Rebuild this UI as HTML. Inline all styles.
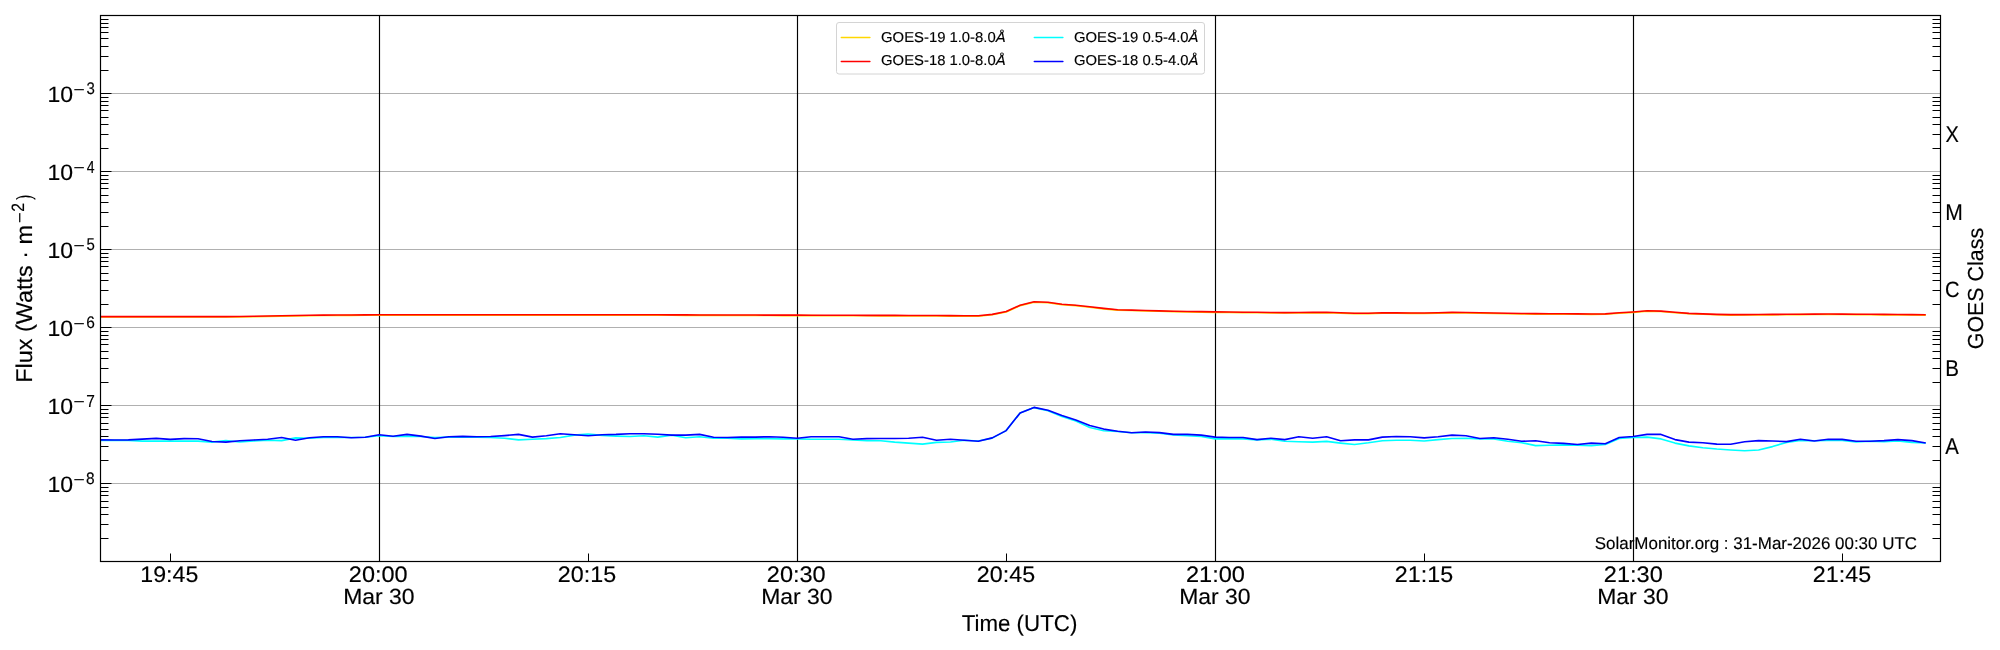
<!DOCTYPE html><html><head><meta charset="utf-8"><style>html,body{margin:0;padding:0;background:#fff;overflow:hidden}svg{display:block;will-change:transform}text{text-rendering:geometricPrecision}</style></head><body><svg width="2000" height="650" viewBox="0 0 2000 650">
<rect width="2000" height="650" fill="#fff"/>
<path d="M100.5 483.5H1940.5M100.5 405.5H1940.5M100.5 327.5H1940.5M100.5 249.5H1940.5M100.5 171.5H1940.5M100.5 93.5H1940.5" stroke="#b0b0b0" stroke-width="1" fill="none"/>
<path d="M379.5 15.5V561.5M797.5 15.5V561.5M1215.5 15.5V561.5M1633.5 15.5V561.5" stroke="#000" stroke-width="1.15" fill="none"/>
<g fill="none" stroke-width="1.6" stroke-linejoin="round" stroke-linecap="butt">
<path d="M100.50 317.05 L114.43 317.05 L128.37 317.05 L142.30 317.05 L156.23 317.05 L170.17 317.05 L184.10 317.05 L198.03 317.05 L211.97 317.05 L225.90 317.05 L239.83 316.97 L253.77 316.74 L267.70 316.51 L281.63 316.26 L295.57 316.00 L309.50 315.73 L323.43 315.53 L337.37 315.45 L351.30 315.38 L365.23 315.30 L379.17 315.25 L393.10 315.25 L407.03 315.25 L420.97 315.25 L434.90 315.25 L448.83 315.25 L462.77 315.25 L476.70 315.25 L490.63 315.25 L504.57 315.25 L518.50 315.25 L532.43 315.25 L546.37 315.25 L560.30 315.25 L574.23 315.25 L588.17 315.25 L602.10 315.25 L616.03 315.25 L629.97 315.25 L643.90 315.25 L657.83 315.27 L671.77 315.31 L685.70 315.34 L699.63 315.38 L713.57 315.41 L727.50 315.45 L741.43 315.48 L755.37 315.52 L769.30 315.55 L783.23 315.59 L797.17 315.62 L811.10 315.66 L825.03 315.70 L838.97 315.73 L852.90 315.77 L866.83 315.80 L880.77 315.84 L894.70 315.87 L908.63 315.91 L922.57 315.94 L936.50 316.01 L950.43 316.09 L964.37 316.17 L978.30 316.24 L992.23 314.82 L1006.17 312.02 L1020.10 305.63 L1034.03 302.25 L1047.97 302.76 L1061.90 304.66 L1075.83 305.67 L1089.77 307.26 L1103.70 308.86 L1117.63 310.15 L1131.57 310.55 L1145.50 310.95 L1159.43 311.30 L1173.37 311.65 L1187.30 311.88 L1201.23 312.12 L1215.17 312.35 L1229.10 312.49 L1243.03 312.63 L1256.97 312.77 L1270.90 312.91 L1284.83 313.05 L1298.77 312.95 L1312.70 312.85 L1326.63 312.75 L1340.57 313.20 L1354.50 313.65 L1368.43 313.65 L1382.37 313.25 L1396.30 313.32 L1410.23 313.38 L1424.17 313.45 L1438.10 313.16 L1452.03 312.87 L1465.97 312.90 L1479.90 313.17 L1493.83 313.45 L1507.77 313.72 L1521.70 313.99 L1535.63 314.10 L1549.57 314.18 L1563.50 314.25 L1577.43 314.32 L1591.37 314.39 L1605.30 314.31 L1619.23 313.24 L1633.17 312.38 L1647.10 311.25 L1661.03 311.55 L1674.97 312.69 L1688.90 313.78 L1702.83 314.28 L1716.77 314.78 L1730.70 315.12 L1744.63 315.03 L1758.57 314.93 L1772.50 314.83 L1786.43 314.74 L1800.37 314.64 L1814.30 314.54 L1828.23 314.45 L1842.17 314.55 L1856.10 314.65 L1870.03 314.75 L1883.97 314.85 L1897.90 314.95 L1911.83 315.05 L1925.77 315.15" stroke="#ffd700"/>
<path d="M100.50 316.60 L114.43 316.60 L128.37 316.60 L142.30 316.60 L156.23 316.60 L170.17 316.60 L184.10 316.60 L198.03 316.60 L211.97 316.60 L225.90 316.60 L239.83 316.52 L253.77 316.29 L267.70 316.06 L281.63 315.81 L295.57 315.55 L309.50 315.28 L323.43 315.08 L337.37 315.00 L351.30 314.93 L365.23 314.85 L379.17 314.80 L393.10 314.80 L407.03 314.80 L420.97 314.80 L434.90 314.80 L448.83 314.80 L462.77 314.80 L476.70 314.80 L490.63 314.80 L504.57 314.80 L518.50 314.80 L532.43 314.80 L546.37 314.80 L560.30 314.80 L574.23 314.80 L588.17 314.80 L602.10 314.80 L616.03 314.80 L629.97 314.80 L643.90 314.80 L657.83 314.82 L671.77 314.86 L685.70 314.89 L699.63 314.93 L713.57 314.96 L727.50 315.00 L741.43 315.03 L755.37 315.07 L769.30 315.10 L783.23 315.14 L797.17 315.17 L811.10 315.21 L825.03 315.25 L838.97 315.28 L852.90 315.32 L866.83 315.35 L880.77 315.39 L894.70 315.42 L908.63 315.46 L922.57 315.49 L936.50 315.56 L950.43 315.64 L964.37 315.72 L978.30 315.79 L992.23 314.37 L1006.17 311.57 L1020.10 305.18 L1034.03 301.80 L1047.97 302.31 L1061.90 304.21 L1075.83 305.22 L1089.77 306.81 L1103.70 308.41 L1117.63 309.70 L1131.57 310.10 L1145.50 310.50 L1159.43 310.85 L1173.37 311.20 L1187.30 311.43 L1201.23 311.67 L1215.17 311.90 L1229.10 312.04 L1243.03 312.18 L1256.97 312.32 L1270.90 312.46 L1284.83 312.60 L1298.77 312.50 L1312.70 312.40 L1326.63 312.30 L1340.57 312.75 L1354.50 313.20 L1368.43 313.20 L1382.37 312.80 L1396.30 312.87 L1410.23 312.93 L1424.17 313.00 L1438.10 312.71 L1452.03 312.42 L1465.97 312.45 L1479.90 312.72 L1493.83 313.00 L1507.77 313.27 L1521.70 313.54 L1535.63 313.65 L1549.57 313.73 L1563.50 313.80 L1577.43 313.87 L1591.37 313.94 L1605.30 313.86 L1619.23 312.79 L1633.17 311.93 L1647.10 310.80 L1661.03 311.10 L1674.97 312.24 L1688.90 313.33 L1702.83 313.83 L1716.77 314.33 L1730.70 314.67 L1744.63 314.58 L1758.57 314.48 L1772.50 314.38 L1786.43 314.29 L1800.37 314.19 L1814.30 314.09 L1828.23 314.00 L1842.17 314.10 L1856.10 314.20 L1870.03 314.30 L1883.97 314.40 L1897.90 314.50 L1911.83 314.60 L1925.77 314.70" stroke="#ff0000"/>
<path d="M100.50 440.40 L114.43 440.20 L128.37 440.40 L142.30 441.10 L156.23 441.10 L170.17 441.10 L184.10 441.10 L198.03 441.10 L211.97 442.10 L225.90 440.60 L239.83 442.00 L253.77 441.00 L267.70 440.30 L281.63 440.60 L295.57 437.90 L309.50 438.20 L323.43 437.50 L337.37 437.50 L351.30 437.50 L365.23 437.20 L379.17 435.80 L393.10 436.50 L407.03 436.10 L420.97 436.50 L434.90 437.50 L448.83 437.10 L462.77 437.10 L476.70 437.10 L490.63 437.50 L504.57 438.20 L518.50 439.90 L532.43 439.20 L546.37 438.60 L560.30 437.50 L574.23 435.10 L588.17 434.00 L602.10 435.40 L616.03 436.10 L629.97 436.50 L643.90 435.80 L657.83 437.10 L671.77 435.10 L685.70 437.80 L699.63 436.80 L713.57 438.20 L727.50 438.20 L741.43 438.90 L755.37 438.60 L769.30 438.70 L783.23 438.90 L797.17 438.90 L811.10 439.30 L825.03 439.30 L838.97 439.30 L852.90 440.00 L866.83 440.70 L880.77 440.70 L894.70 442.10 L908.63 443.10 L922.57 444.10 L936.50 442.40 L950.43 442.00 L964.37 440.30 L978.30 441.00 L992.23 438.10 L1006.17 430.60 L1020.10 412.90 L1034.03 407.60 L1047.97 410.70 L1061.90 416.50 L1075.83 421.00 L1089.77 427.50 L1103.70 430.70 L1117.63 431.50 L1131.57 432.80 L1145.50 432.60 L1159.43 433.30 L1173.37 434.90 L1187.30 435.80 L1201.23 436.50 L1215.17 438.90 L1229.10 438.90 L1243.03 438.90 L1256.97 439.90 L1270.90 439.20 L1284.83 441.30 L1298.77 441.70 L1312.70 442.10 L1326.63 441.40 L1340.57 443.10 L1354.50 444.50 L1368.43 442.80 L1382.37 440.70 L1396.30 440.30 L1410.23 440.30 L1424.17 441.00 L1438.10 439.60 L1452.03 438.50 L1465.97 438.20 L1479.90 438.90 L1493.83 438.90 L1507.77 441.30 L1521.70 442.70 L1535.63 445.60 L1549.57 445.20 L1563.50 444.90 L1577.43 445.20 L1591.37 445.60 L1605.30 444.50 L1619.23 438.50 L1633.17 437.50 L1647.10 437.10 L1661.03 438.90 L1674.97 443.10 L1688.90 445.90 L1702.83 447.70 L1716.77 449.05 L1730.70 450.00 L1744.63 450.80 L1758.57 450.00 L1772.50 446.60 L1786.43 442.40 L1800.37 440.40 L1814.30 440.80 L1828.23 440.40 L1842.17 440.40 L1856.10 442.00 L1870.03 441.20 L1883.97 441.60 L1897.90 441.00 L1911.83 442.40 L1925.77 443.00" stroke="#00ffff"/>
<path d="M100.50 439.85 L114.43 440.00 L128.37 439.85 L142.30 439.10 L156.23 438.35 L170.17 439.40 L184.10 438.65 L198.03 438.70 L211.97 441.50 L225.90 442.10 L239.83 440.80 L253.77 440.00 L267.70 439.30 L281.63 437.50 L295.57 440.30 L309.50 437.80 L323.43 436.80 L337.37 436.80 L351.30 437.80 L365.23 437.20 L379.17 434.70 L393.10 436.20 L407.03 434.40 L420.97 436.10 L434.90 438.50 L448.83 436.80 L462.77 436.40 L476.70 436.80 L490.63 436.50 L504.57 435.60 L518.50 434.40 L532.43 437.10 L546.37 435.70 L560.30 433.70 L574.23 434.70 L588.17 435.80 L602.10 434.70 L616.03 434.40 L629.97 433.70 L643.90 433.70 L657.83 434.30 L671.77 435.10 L685.70 435.10 L699.63 434.40 L713.57 437.20 L727.50 437.50 L741.43 437.10 L755.37 437.10 L769.30 436.70 L783.23 437.20 L797.17 438.20 L811.10 436.80 L825.03 436.80 L838.97 436.80 L852.90 439.20 L866.83 438.60 L880.77 438.50 L894.70 438.50 L908.63 438.20 L922.57 437.20 L936.50 440.30 L950.43 439.20 L964.37 440.30 L978.30 441.30 L992.23 437.90 L1006.17 430.60 L1020.10 412.90 L1034.03 407.40 L1047.97 410.20 L1061.90 415.50 L1075.83 420.00 L1089.77 425.40 L1103.70 429.10 L1117.63 431.20 L1131.57 432.80 L1145.50 432.00 L1159.43 432.60 L1173.37 434.40 L1187.30 434.40 L1201.23 435.10 L1215.17 437.10 L1229.10 437.50 L1243.03 437.50 L1256.97 439.60 L1270.90 438.20 L1284.83 439.60 L1298.77 436.80 L1312.70 438.20 L1326.63 436.80 L1340.57 440.70 L1354.50 439.90 L1368.43 439.90 L1382.37 437.10 L1396.30 436.50 L1410.23 436.80 L1424.17 437.90 L1438.10 436.80 L1452.03 435.10 L1465.97 435.70 L1479.90 438.50 L1493.83 437.80 L1507.77 439.30 L1521.70 441.30 L1535.63 440.70 L1549.57 442.70 L1563.50 443.40 L1577.43 444.50 L1591.37 443.10 L1605.30 443.80 L1619.23 437.50 L1633.17 436.50 L1647.10 434.40 L1661.03 434.40 L1674.97 439.60 L1688.90 442.10 L1702.83 442.70 L1716.77 444.10 L1730.70 444.20 L1744.63 441.80 L1758.57 440.60 L1772.50 441.00 L1786.43 441.60 L1800.37 439.20 L1814.30 441.00 L1828.23 439.20 L1842.17 439.40 L1856.10 441.20 L1870.03 441.20 L1883.97 440.60 L1897.90 439.60 L1911.83 440.60 L1925.77 443.00" stroke="#0000ff"/>
</g>
<path d="M100.5 538.5h8M1940.5 538.5h-8M100.5 524.5h8M1940.5 524.5h-8M100.5 514.5h8M1940.5 514.5h-8M100.5 507.5h8M1940.5 507.5h-8M100.5 501.5h8M1940.5 501.5h-8M100.5 495.5h8M1940.5 495.5h-8M100.5 491.5h8M1940.5 491.5h-8M100.5 487.5h8M1940.5 487.5h-8M100.5 483.5h11M100.5 460.5h8M1940.5 460.5h-8M100.5 446.5h8M1940.5 446.5h-8M100.5 436.5h8M1940.5 436.5h-8M100.5 429.5h8M1940.5 429.5h-8M100.5 423.5h8M1940.5 423.5h-8M100.5 417.5h8M1940.5 417.5h-8M100.5 413.5h8M1940.5 413.5h-8M100.5 409.5h8M1940.5 409.5h-8M100.5 405.5h11M100.5 382.5h8M1940.5 382.5h-8M100.5 368.5h8M1940.5 368.5h-8M100.5 358.5h8M1940.5 358.5h-8M100.5 351.5h8M1940.5 351.5h-8M100.5 344.5h8M1940.5 344.5h-8M100.5 339.5h8M1940.5 339.5h-8M100.5 335.5h8M1940.5 335.5h-8M100.5 331.5h8M1940.5 331.5h-8M100.5 327.5h11M100.5 304.5h8M1940.5 304.5h-8M100.5 290.5h8M1940.5 290.5h-8M100.5 280.5h8M1940.5 280.5h-8M100.5 273.5h8M1940.5 273.5h-8M100.5 266.5h8M1940.5 266.5h-8M100.5 261.5h8M1940.5 261.5h-8M100.5 257.5h8M1940.5 257.5h-8M100.5 253.5h8M1940.5 253.5h-8M100.5 249.5h11M100.5 226.5h8M1940.5 226.5h-8M100.5 212.5h8M1940.5 212.5h-8M100.5 202.5h8M1940.5 202.5h-8M100.5 195.5h8M1940.5 195.5h-8M100.5 188.5h8M1940.5 188.5h-8M100.5 183.5h8M1940.5 183.5h-8M100.5 179.5h8M1940.5 179.5h-8M100.5 175.5h8M1940.5 175.5h-8M100.5 171.5h11M100.5 148.5h8M1940.5 148.5h-8M100.5 134.5h8M1940.5 134.5h-8M100.5 124.5h8M1940.5 124.5h-8M100.5 117.5h8M1940.5 117.5h-8M100.5 110.5h8M1940.5 110.5h-8M100.5 105.5h8M1940.5 105.5h-8M100.5 101.5h8M1940.5 101.5h-8M100.5 97.5h8M1940.5 97.5h-8M100.5 93.5h11M100.5 70.5h8M1940.5 70.5h-8M100.5 56.5h8M1940.5 56.5h-8M100.5 46.5h8M1940.5 46.5h-8M100.5 38.5h8M1940.5 38.5h-8M100.5 32.5h8M1940.5 32.5h-8M100.5 27.5h8M1940.5 27.5h-8M100.5 23.5h8M1940.5 23.5h-8M100.5 19.5h8M1940.5 19.5h-8M100.5 15.5h11M170.5 561.5v-8M379.5 561.5v-8M588.5 561.5v-8M797.5 561.5v-8M1006.5 561.5v-8M1215.5 561.5v-8M1424.5 561.5v-8M1633.5 561.5v-8M1842.5 561.5v-8" stroke="#000" stroke-width="1" fill="none"/>
<rect x="100.5" y="15.5" width="1840.0" height="546.0" fill="none" stroke="#000" stroke-width="1.2"/>
<rect x="836.5" y="22.5" width="368" height="51.5" rx="2.5" fill="#fff" fill-opacity="0.8" stroke="#d4d4d4" stroke-width="1"/>
<path d="M841.30 37.44h28.6" stroke="#ffd700" stroke-width="1.5" stroke-linecap="round"/>
<path d="M841.30 61.44h28.6" stroke="#ff0000" stroke-width="1.5" stroke-linecap="round"/>
<path d="M1034.30 37.44h28.6" stroke="#00ffff" stroke-width="1.5" stroke-linecap="round"/>
<path d="M1034.30 61.44h28.6" stroke="#0000ff" stroke-width="1.5" stroke-linecap="round"/>
<g transform="matrix(1.01111 0 0 0.97235 47.378 492.456)"><text font-family="Liberation Sans, sans-serif" stroke="#000" stroke-width="0.15" font-size="22.8">10</text></g>
<g transform="matrix(1.20003 0 0 1.00000 73.450 484.500)"><text font-family="Liberation Sans, sans-serif" stroke="#000" stroke-width="0.15" font-size="16">−</text></g>
<g transform="matrix(0.96889 0 0 1.04348 86.108 484.389)"><text font-family="Liberation Sans, sans-serif" stroke="#000" stroke-width="0.15" font-size="16">8</text></g>
<g transform="matrix(1.01111 0 0 0.97235 47.378 414.456)"><text font-family="Liberation Sans, sans-serif" stroke="#000" stroke-width="0.15" font-size="22.8">10</text></g>
<g transform="matrix(1.20003 0 0 1.00000 73.450 406.500)"><text font-family="Liberation Sans, sans-serif" stroke="#000" stroke-width="0.15" font-size="16">−</text></g>
<g transform="matrix(0.96667 0 0 1.09091 86.125 406.650)"><text font-family="Liberation Sans, sans-serif" stroke="#000" stroke-width="0.15" font-size="16">7</text></g>
<g transform="matrix(1.01111 0 0 0.97235 47.378 336.456)"><text font-family="Liberation Sans, sans-serif" stroke="#000" stroke-width="0.15" font-size="22.8">10</text></g>
<g transform="matrix(1.20003 0 0 1.00000 73.450 328.500)"><text font-family="Liberation Sans, sans-serif" stroke="#000" stroke-width="0.15" font-size="16">−</text></g>
<g transform="matrix(0.96667 0 0 1.04348 86.125 328.389)"><text font-family="Liberation Sans, sans-serif" stroke="#000" stroke-width="0.15" font-size="16">6</text></g>
<g transform="matrix(1.01111 0 0 0.97235 47.378 258.456)"><text font-family="Liberation Sans, sans-serif" stroke="#000" stroke-width="0.15" font-size="22.8">10</text></g>
<g transform="matrix(1.20003 0 0 1.00000 73.450 250.500)"><text font-family="Liberation Sans, sans-serif" stroke="#000" stroke-width="0.15" font-size="16">−</text></g>
<g transform="matrix(0.93548 0 0 1.06667 86.382 250.383)"><text font-family="Liberation Sans, sans-serif" stroke="#000" stroke-width="0.15" font-size="16">5</text></g>
<g transform="matrix(1.01111 0 0 0.97235 47.378 180.456)"><text font-family="Liberation Sans, sans-serif" stroke="#000" stroke-width="0.15" font-size="22.8">10</text></g>
<g transform="matrix(1.20003 0 0 1.00000 73.450 172.500)"><text font-family="Liberation Sans, sans-serif" stroke="#000" stroke-width="0.15" font-size="16">−</text></g>
<g transform="matrix(0.87879 0 0 1.09091 86.630 172.650)"><text font-family="Liberation Sans, sans-serif" stroke="#000" stroke-width="0.15" font-size="16">4</text></g>
<g transform="matrix(1.01111 0 0 0.97235 47.378 102.456)"><text font-family="Liberation Sans, sans-serif" stroke="#000" stroke-width="0.15" font-size="22.8">10</text></g>
<g transform="matrix(1.20003 0 0 1.00000 73.450 94.500)"><text font-family="Liberation Sans, sans-serif" stroke="#000" stroke-width="0.15" font-size="16">−</text></g>
<g transform="matrix(0.93548 0 0 1.04348 86.382 94.389)"><text font-family="Liberation Sans, sans-serif" stroke="#000" stroke-width="0.15" font-size="16">3</text></g>
<g transform="matrix(1.01468 0 0 0.98462 169.312 581.754)"><text font-family="Liberation Sans, sans-serif" stroke="#000" stroke-width="0.15" font-size="22.8" text-anchor="middle">19:45</text></g>
<g transform="matrix(1.02896 0 0 0.98462 378.211 581.754)"><text font-family="Liberation Sans, sans-serif" stroke="#000" stroke-width="0.15" font-size="22.8" text-anchor="middle">20:00</text></g>
<g transform="matrix(1.00730 0 0 0.96309 378.882 604.409)"><text font-family="Liberation Sans, sans-serif" stroke="#000" stroke-width="0.15" font-size="22.8" text-anchor="middle">Mar 30</text></g>
<g transform="matrix(1.02091 0 0 0.98462 586.990 581.754)"><text font-family="Liberation Sans, sans-serif" stroke="#000" stroke-width="0.15" font-size="22.8" text-anchor="middle">20:15</text></g>
<g transform="matrix(1.03167 0 0 0.98462 796.285 581.754)"><text font-family="Liberation Sans, sans-serif" stroke="#000" stroke-width="0.15" font-size="22.8" text-anchor="middle">20:30</text></g>
<g transform="matrix(1.00730 0 0 0.96309 796.882 604.409)"><text font-family="Liberation Sans, sans-serif" stroke="#000" stroke-width="0.15" font-size="22.8" text-anchor="middle">Mar 30</text></g>
<g transform="matrix(1.02091 0 0 0.98462 1005.990 581.754)"><text font-family="Liberation Sans, sans-serif" stroke="#000" stroke-width="0.15" font-size="22.8" text-anchor="middle">20:45</text></g>
<g transform="matrix(1.03439 0 0 0.98462 1215.409 581.754)"><text font-family="Liberation Sans, sans-serif" stroke="#000" stroke-width="0.15" font-size="22.8" text-anchor="middle">21:00</text></g>
<g transform="matrix(1.00730 0 0 0.96309 1214.882 604.409)"><text font-family="Liberation Sans, sans-serif" stroke="#000" stroke-width="0.15" font-size="22.8" text-anchor="middle">Mar 30</text></g>
<g transform="matrix(1.02091 0 0 0.98462 1423.990 581.754)"><text font-family="Liberation Sans, sans-serif" stroke="#000" stroke-width="0.15" font-size="22.8" text-anchor="middle">21:15</text></g>
<g transform="matrix(1.03259 0 0 0.98462 1633.310 581.754)"><text font-family="Liberation Sans, sans-serif" stroke="#000" stroke-width="0.15" font-size="22.8" text-anchor="middle">21:30</text></g>
<g transform="matrix(1.00730 0 0 0.96309 1632.882 604.409)"><text font-family="Liberation Sans, sans-serif" stroke="#000" stroke-width="0.15" font-size="22.8" text-anchor="middle">Mar 30</text></g>
<g transform="matrix(1.02091 0 0 0.98462 1841.990 581.754)"><text font-family="Liberation Sans, sans-serif" stroke="#000" stroke-width="0.15" font-size="22.8" text-anchor="middle">21:45</text></g>
<g transform="matrix(0.87719 0 0 1.00636 1945.561 141.600)"><text font-family="Liberation Sans, sans-serif" stroke="#000" stroke-width="0.15" font-size="22.8">X</text></g>
<g transform="matrix(0.92582 0 0 1.00636 1945.230 219.600)"><text font-family="Liberation Sans, sans-serif" stroke="#000" stroke-width="0.15" font-size="22.8">M</text></g>
<g transform="matrix(0.88487 0 0 0.97539 1945.115 297.357)"><text font-family="Liberation Sans, sans-serif" stroke="#000" stroke-width="0.15" font-size="22.8">C</text></g>
<g transform="matrix(0.90221 0 0 1.00636 1945.220 375.600)"><text font-family="Liberation Sans, sans-serif" stroke="#000" stroke-width="0.15" font-size="22.8">B</text></g>
<g transform="matrix(0.89199 0 0 1.00636 1945.199 453.600)"><text font-family="Liberation Sans, sans-serif" stroke="#000" stroke-width="0.15" font-size="22.8">A</text></g>
<g transform="matrix(0.95232 0 0 0.93870 1982.714 288.542)"><g transform="rotate(-90)"><text font-family="Liberation Sans, sans-serif" stroke="#000" stroke-width="0.15" font-size="22.8" text-anchor="middle">GOES Class</text></g></g>
<g transform="matrix(1.00000 0 0 1.02558 32.300 382.696)"><g transform="rotate(-90)"><text font-family="Liberation Sans, sans-serif" stroke="#000" stroke-width="0.15" font-size="22.8">Flux (Watts · m</text></g></g>
<g transform="matrix(1.00000 0 0 1.14378 24.800 222.979)"><g transform="rotate(-90)"><text font-family="Liberation Sans, sans-serif" stroke="#000" stroke-width="0.15" font-size="16">−</text></g></g>
<g transform="matrix(1.11111 0 0 0.98005 24.439 211.836)"><g transform="rotate(-90)"><text font-family="Liberation Sans, sans-serif" stroke="#000" stroke-width="0.15" font-size="16">2</text></g></g>
<g transform="matrix(0.89412 0 0 0.69176 30.648 199.789)"><g transform="rotate(-90)"><text font-family="Liberation Sans, sans-serif" stroke="#000" stroke-width="0.15" font-size="22.8">)</text></g></g>
<g transform="matrix(0.97854 0 0 1.00000 1019.489 630.800)"><text font-family="Liberation Sans, sans-serif" stroke="#000" stroke-width="0.15" font-size="22.8" text-anchor="middle">Time (UTC)</text></g>
<g transform="matrix(0.99720 0 0 1.00000 1594.752 549.000)"><text font-family="Liberation Sans, sans-serif" stroke="#000" stroke-width="0.15" font-size="17">SolarMonitor.org : 31-Mar-2026 00:30 UTC</text></g>
<g transform="matrix(1.03747 0 0 1.00000 881.079 41.800)"><text font-family="Liberation Sans, sans-serif" stroke="#000" stroke-width="0.15" font-size="14.3">GOES-19 1.0-8.0<tspan font-style="italic">Å</tspan></text></g>
<g transform="matrix(1.03747 0 0 1.00000 881.079 64.800)"><text font-family="Liberation Sans, sans-serif" stroke="#000" stroke-width="0.15" font-size="14.3">GOES-18 1.0-8.0<tspan font-style="italic">Å</tspan></text></g>
<g transform="matrix(1.03579 0 0 1.00000 1074.080 41.800)"><text font-family="Liberation Sans, sans-serif" stroke="#000" stroke-width="0.15" font-size="14.3">GOES-19 0.5-4.0<tspan font-style="italic">Å</tspan></text></g>
<g transform="matrix(1.03579 0 0 1.00000 1074.080 64.800)"><text font-family="Liberation Sans, sans-serif" stroke="#000" stroke-width="0.15" font-size="14.3">GOES-18 0.5-4.0<tspan font-style="italic">Å</tspan></text></g>
</svg></body></html>
